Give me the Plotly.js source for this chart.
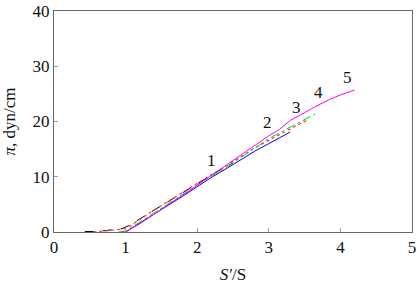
<!DOCTYPE html>
<html><head><meta charset="utf-8">
<script src="https://cdn.plot.ly/plotly-3.0.1.min.js"></script>
<style>html,body{margin:0;padding:0;background:#fff}#c{width:417px;height:289px}</style>
</head><body><div id="c"></div>
<script>
const x1 = [0.43,0.6,0.75,0.85,0.95,1.05,1.2,1.4,1.6,1.8,2.0,2.2,2.4,2.5];
const y1 = [0.1,0.1,0.3,0.4,0.6,1.2,2.4,4.0,5.6,7.1,8.8,10.3,11.8,12.5];
const x2 = [1.0,1.2,1.4,1.6,1.8,2.0,2.2,2.4,2.6,2.8,3.0,3.15,3.3];
const y2 = [0,1.6,3.2,4.9,6.5,8.2,9.9,11.4,13.0,14.6,16.0,17.1,18.1];
const x3 = [0.55,0.7,0.85,0.95,1.05,1.2,1.4,1.6,1.8,2.0,2.2,2.4,2.6,2.8,3.0,3.2,3.4,3.54];
const y3 = [0,0.2,0.3,0.5,1.0,2.3,4.0,5.6,7.2,8.9,10.4,11.9,13.5,15.2,16.6,18.0,19.3,20.3];
const x4 = [0.9,1.0,1.2,1.4,1.6,1.8,2.0,2.2,2.4,2.6,2.8,3.0,3.2,3.4,3.65];
const y4 = [0,0.2,1.8,3.5,5.2,6.8,8.5,10.1,11.6,13.4,15.2,16.9,18.3,19.7,21.4];
const x5 = [0.95,1.0,1.2,1.4,1.6,1.8,2.0,2.2,2.4,2.6,2.8,3.0,3.15,3.3,3.5,3.65,3.85,4.0,4.2];
const y5 = [0,0,1.5,3.3,5.0,6.7,8.5,10.3,12.0,13.9,15.6,17.4,18.6,20.2,21.6,22.7,24.0,24.8,25.7];
const labels = ['1','2','3','4','5'];
const labelX = [2.2,2.98,3.39,3.69,4.1];
const labelY = [13.0,19.9,22.6,25.2,27.9];
const xTicks = [0,1,2,3,4,5];
const yTicks = [0,10,20,30,40];

const F = 'Liberation Serif';
const traces = [
  {x:x1,y:y1,mode:'lines',line:{color:'#000',width:1,dash:'dash'}},
  {x:x2,y:y2,mode:'lines',line:{color:'#0000ff',width:1}},
  {x:x3,y:y3,mode:'lines',line:{color:'#ff3030',width:1.2,dash:'dot'}},
  {x:x4,y:y4,mode:'lines',line:{color:'#00dd00',width:1,dash:'dashdot'}},
  {x:x5,y:y5,mode:'lines',line:{color:'#ff00ff',width:1}}
];
const ann = labels.map((t,i)=>({x:labelX[i],y:labelY[i],text:t,showarrow:false,font:{family:F,size:17,color:'#111'}}));
const ax = {showgrid:false,zeroline:false,showline:true,linecolor:'#666',linewidth:1,mirror:true,
  ticks:'inside',ticklen:4,tickcolor:'#999',tickfont:{family:F,size:17,color:'#111'}};
Plotly.newPlot('c',traces,{
  width:417,height:289,margin:{l:54,r:5,t:11,b:57},
  paper_bgcolor:'#fff',plot_bgcolor:'#fff',showlegend:false,
  font:{family:F},
  xaxis:Object.assign({},ax,{range:[0,5],tickvals:xTicks,
    title:{text:'<i>S′</i>/S',font:{family:F,size:17,color:'#111'},standoff:11}}),
  yaxis:Object.assign({},ax,{range:[0,40],tickvals:yTicks,
    title:{text:'<i>π</i>, dyn/cm',font:{family:F,size:17,color:'#111'},standoff:12}}),
  annotations:ann
},{staticPlot:true});
</script></body></html>
